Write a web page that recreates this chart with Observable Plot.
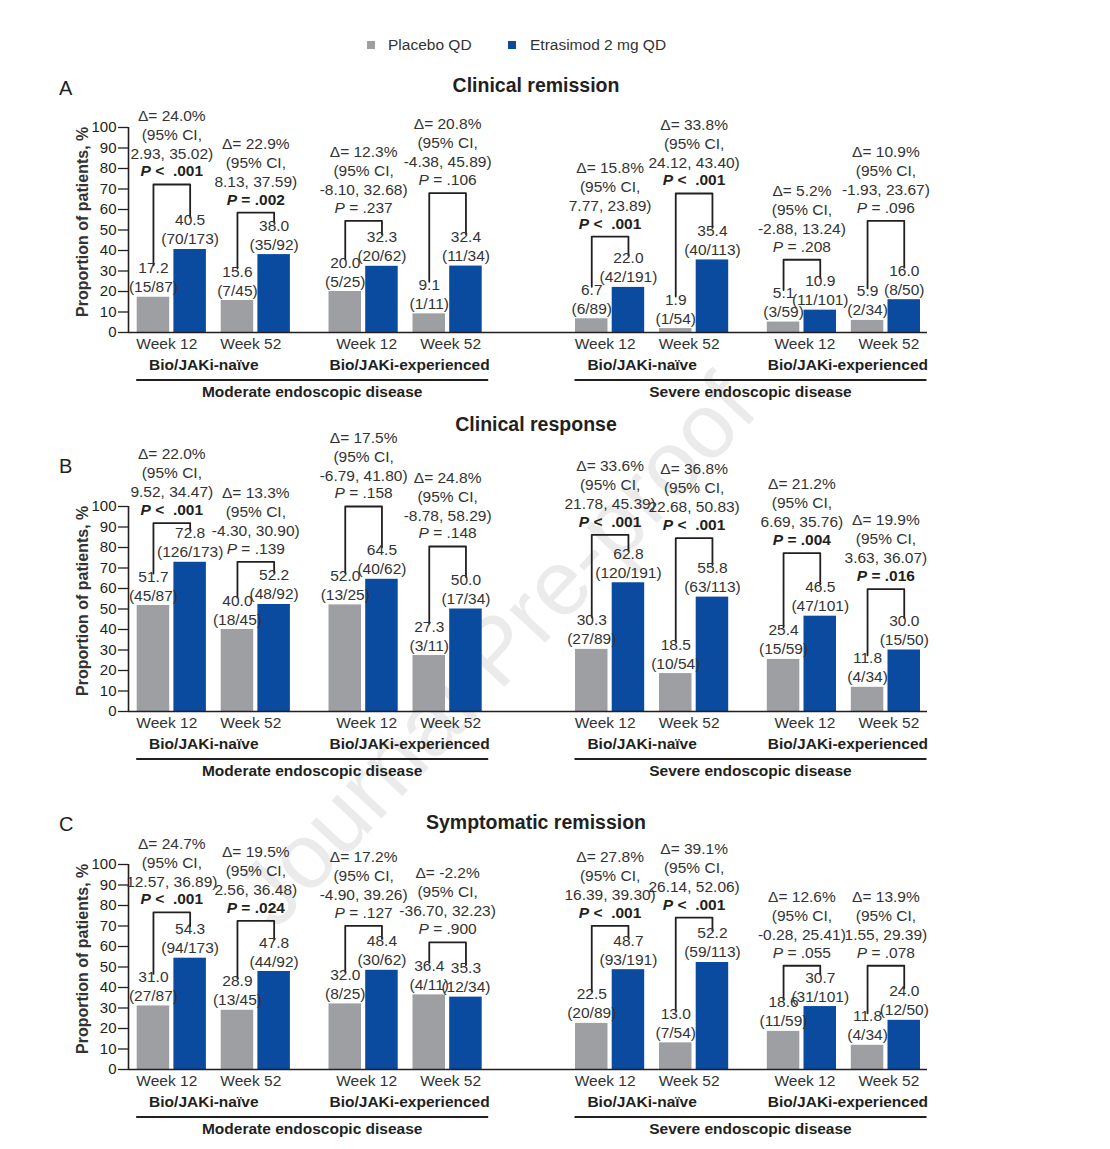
<!DOCTYPE html>
<html><head><meta charset="utf-8">
<script src="https://cdn.jsdelivr.net/npm/d3@7"></script>
<script src="https://cdn.jsdelivr.net/npm/@observablehq/plot@0.6"></script>
<style>
body{margin:0;background:#fff;font-family:"Liberation Sans",Arial,sans-serif;color:#231f20;}
#root{position:relative;width:1110px;height:1149px;overflow:hidden;background:#fff;}
.abs{position:absolute;white-space:nowrap;line-height:1;}
.panel{position:absolute;left:0;}
</style></head><body><div id="root"></div>
<script>
// ---------------- DATA ----------------
const ARMS = ["Placebo QD", "Etrasimod 2 mg QD"];
const WEEKS = ["Week 12", "Week 52"];
const SUBGROUPS = ["Bio/JAKi-naïve", "Bio/JAKi-experienced"];
const DISEASES = ["Moderate endoscopic disease", "Severe endoscopic disease"];
const TITLES = ["Clinical remission", "Clinical response", "Symptomatic remission"];
const LETTERS = ["A", "B", "C"];
const Y_TICKS = [0, 10, 20, 30, 40, 50, 60, 70, 80, 90, 100];
const Y_LABEL = "Proportion of patients, %";

// A: Clinical remission
const remPlacebo = [17.2, 15.6, 20.0, 9.1, 6.7, 1.9, 5.1, 5.9];
const remPlaceboN = ["15/87", "7/45", "5/25", "1/11", "6/89", "1/54", "3/59", "2/34"];
const remEtra = [40.5, 38.0, 32.3, 32.4, 22.0, 35.4, 10.9, 16.0];
const remEtraN = ["70/173", "35/92", "20/62", "11/34", "42/191", "40/113", "11/101", "8/50"];
const remDelta = ["24.0", "22.9", "12.3", "20.8", "15.8", "33.8", "5.2", "10.9"];
const remCI = ["2.93, 35.02", "8.13, 37.59", "-8.10, 32.68", "-4.38, 45.89", "7.77, 23.89", "24.12, 43.40", "-2.88, 13.24", "-1.93, 23.67"];
const remP = ["<  .001", "= .002", "= .237", "= .106", "<  .001", "<  .001", "= .208", "= .096"];
const remBracket = [72.2, 58.5, 54.5, 68.0, 46.8, 67.8, 35.5, 54.5];

// B: Clinical response
const resPlacebo = [51.7, 40.0, 52.0, 27.3, 30.3, 18.5, 25.4, 11.8];
const resPlaceboN = ["45/87", "18/45", "13/25", "3/11", "27/89", "10/54", "15/59", "4/34"];
const resEtra = [72.8, 52.2, 64.5, 50.0, 62.8, 55.8, 46.5, 30.0];
const resEtraN = ["126/173", "48/92", "40/62", "17/34", "120/191", "63/113", "47/101", "15/50"];
const resDelta = ["22.0", "13.3", "17.5", "24.8", "33.6", "36.8", "21.2", "19.9"];
const resCI = ["9.52, 34.47", "-4.30, 30.90", "-6.79, 41.80", "-8.78, 58.29", "21.78, 45.39", "22.68, 50.83", "6.69, 35.76", "3.63, 36.07"];
const resP = ["<  .001", "= .139", "= .158", "= .148", "<  .001", "<  .001", "= .004", "= .016"];
const resBracket = [91.9, 73.0, 100.0, 80.5, 86.2, 84.6, 77.3, 59.7];

// C: Symptomatic remission
const symPlacebo = [31.0, 28.9, 32.0, 36.4, 22.5, 13.0, 18.6, 11.8];
const symPlaceboN = ["27/87", "13/45", "8/25", "4/11", "20/89", "7/54", "11/59", "4/34"];
const symEtra = [54.3, 47.8, 48.4, 35.3, 48.7, 52.2, 30.7, 24.0];
const symEtraN = ["94/173", "44/92", "30/62", "12/34", "93/191", "59/113", "31/101", "12/50"];
const symDelta = ["24.7", "19.5", "17.2", "-2.2", "27.8", "39.1", "12.6", "13.9"];
const symCI = ["12.57, 36.89", "2.56, 36.48", "-4.90, 39.26", "-36.70, 32.23", "16.39, 39.30", "26.14, 52.06", "-0.28, 25.41", "1.55, 29.39"];
const symP = ["<  .001", "= .024", "= .127", "= .900", "<  .001", "<  .001", "= .055", "= .078"];
const symBracket = [76.6, 72.5, 70.1, 62.0, 70.1, 74.1, 50.6, 50.6];

// ---------------- STYLE / LAYOUT ----------------
const FONT = '"Liberation Sans", Arial, sans-serif';
const GRAY = "#9e9fa3", BLUE = "#0a4a9f", INK = "#231f20";
const W = 1110, MT = 100, PLOT_H = 205, MB = 75, ML = 128, MR = 183;
const XMAX = W - ML - MR;
const X0 = 8.7, DSTEP = 438.3, SSTEP = 191.8, WSTEP = 84, PSTEP = 36.7, BW = 32.5;
const PX_PER = PLOT_H / 100;
const FS = 15.5, LH = 19 / 15.5;
const zeroY = [331.7, 710.7, 1068.7];
const titleY = [86, 425, 823];
const letterY = [88, 466, 824];

function gLeft(i) { return X0 + Math.floor(i / 4) * DSTEP + (Math.floor(i / 2) % 2) * SSTEP + (i % 2) * WSTEP; }
function isSig(p) { return p.trim().startsWith("<") || parseFloat(p.replace(/[^0-9.]/g, "")) < 0.05; }

function panel(placebo, placeboN, etra, etraN, delta, ci, pv, bracket) {
  const bars = [];
  placebo.forEach((v, i) => bars.push({i, arm: ARMS[0], v, n: placeboN[i], x1: gLeft(i), x2: gLeft(i) + BW}));
  etra.forEach((v, i) => bars.push({i, arm: ARMS[1], v, n: etraN[i], x1: gLeft(i) + PSTEP, x2: gLeft(i) + PSTEP + BW}));
  const LEG = 32 / PX_PER;
  const groups = d3.range(8).map(i => ({
    i, xp: gLeft(i) + BW / 2, xe: gLeft(i) + PSTEP + BW / 2,
    xc: gLeft(i) + (PSTEP + BW) / 2, top: bracket[i],
    delta: delta[i], ci: ci[i], p: pv[i], sig: isSig(pv[i])
  }));
  const pts = [];
  groups.forEach(g => {
    pts.push({i: g.i, x: g.xp, y: placebo[g.i] + LEG});
    pts.push({i: g.i, x: g.xp, y: g.top});
    pts.push({i: g.i, x: g.xe, y: g.top});
    pts.push({i: g.i, x: g.xe, y: etra[g.i] + LEG});
  });
  const subs = d3.range(4).map(k => ({k, x: (gLeft(2 * k) + gLeft(2 * k + 1) + PSTEP + BW) / 2, text: SUBGROUPS[k % 2]}));
  const dis = d3.range(2).map(d => ({d, x1: gLeft(4 * d) - 1, x2: gLeft(4 * d + 3) + PSTEP + BW + 6, text: DISEASES[d]}));

  const svg = Plot.plot({
    width: W, height: MT + PLOT_H + MB,
    marginTop: MT, marginBottom: MB, marginLeft: ML, marginRight: MR,
    style: {fontFamily: FONT, fontSize: FS + "px", background: "transparent", overflow: "visible", color: INK},
    x: {domain: [0, XMAX], axis: null},
    y: {domain: [0, 100]},
    color: {domain: ARMS, range: [GRAY, BLUE]},
    marks: [
      Plot.rect(bars, {x1: "x1", x2: "x2", y1: 0, y2: "v", fill: "arm"}),
      Plot.ruleY([0], {stroke: INK, strokeWidth: 1.6}),
      Plot.ruleX([0], {y1: 0, y2: 100, stroke: INK, strokeWidth: 1.6}),
      Plot.axisY({ticks: Y_TICKS, tickSize: 10, tickPadding: 2, label: null, fontSize: 15, stroke: INK, strokeWidth: 1.3, fill: INK}),
      Plot.text([Y_LABEL], {text: d => d, frameAnchor: "left", y: 54, rotate: -90, dx: -46, textAnchor: "middle", lineAnchor: "middle", fontWeight: "bold", fontSize: 16, fill: "#333"}),
      Plot.line(pts, {x: "x", y: "y", z: "i", stroke: INK, strokeWidth: 1.8, curve: "linear"}),
      Plot.text(bars, {x: d => (d.x1 + d.x2) / 2, y: "v", text: d => `${d.v.toFixed(1)}\n(${d.n})`, lineAnchor: "bottom", dy: -5, lineHeight: LH, fill: "#333", fontSize: FS}),
      Plot.text(groups, {x: "xc", y: "top", text: d => `Δ= ${d.delta}%\n(95% CI,\n${d.ci})`, lineAnchor: "middle", dy: -13 - 38, lineHeight: LH, fill: "#333", fontSize: FS}),
      Plot.text(groups.filter(g => g.sig), {x: "xc", y: "top", text: d => `P ${d.p}`, dy: -13, fontWeight: "bold", fill: INK, fontSize: FS}),
      Plot.text(groups.filter(g => !g.sig), {x: "xc", y: "top", text: d => `P ${d.p}`, dy: -13, fill: "#333", fontSize: FS}),
      Plot.text(groups.filter(g => Math.floor(g.i / 2) % 2 === 0), {x: "xc", y: 0, text: d => WEEKS[d.i % 2], dy: 11.5, dx: -5, fill: "#333", fontSize: FS}),
      Plot.text(groups.filter(g => Math.floor(g.i / 2) % 2 === 1), {x: "xc", y: 0, text: d => WEEKS[d.i % 2], dy: 11.5, dx: 3, fill: "#333", fontSize: FS}),
      Plot.text(subs.filter(s => s.k % 2 === 0), {x: "x", y: 0, text: "text", dy: 32.5, dx: -10, fontWeight: "bold", fill: INK, fontSize: FS}),
      Plot.text(subs.filter(s => s.k % 2 === 1), {x: "x", y: 0, text: "text", dy: 32.5, dx: 4, fontWeight: "bold", fill: INK, fontSize: FS}),
      Plot.link(dis, {x1: "x1", x2: "x2", y1: 0, y2: 0, dy: 47.5, stroke: INK, strokeWidth: 1.8}),
      Plot.text(dis, {x: d => (d.x1 + d.x2) / 2, y: 0, text: "text", dy: 59.5, fontWeight: "bold", fill: INK, fontSize: FS})
    ]
  });
  // italicise the "P" of each P-value line
  svg.querySelectorAll("text").forEach(t => {
    if (t.children.length === 0 && /^P [<=]/.test(t.textContent)) {
      const rest = t.textContent.slice(1);
      t.textContent = "";
      const ts = document.createElementNS("http://www.w3.org/2000/svg", "tspan");
      ts.setAttribute("font-style", "italic");
      ts.textContent = "P";
      t.appendChild(ts);
      t.appendChild(document.createTextNode(rest));
    }
  });
  return svg;
}

const root = document.getElementById("root");
function addDiv(html, style) {
  const d = document.createElement("div");
  d.className = "abs";
  d.innerHTML = html;
  Object.assign(d.style, style);
  root.appendChild(d);
  return d;
}

// watermark
addDiv("Journal Pre-proof", {left: "495px", top: "650px", fontSize: "92px", color: "#ebebeb", transform: "translate(-50%,-50%) rotate(-47deg)", fontFamily: FONT});

// legend
addDiv("", {left: "367px", top: "41px", width: "8px", height: "8px", background: GRAY});
addDiv(ARMS[0], {left: "388px", top: "37px", fontSize: "15.5px", color: "#333"});
addDiv("", {left: "508px", top: "41px", width: "8px", height: "8px", background: BLUE});
addDiv(ARMS[1], {left: "530px", top: "37px", fontSize: "15.5px", color: "#333"});

const panels = [
  [remPlacebo, remPlaceboN, remEtra, remEtraN, remDelta, remCI, remP, remBracket],
  [resPlacebo, resPlaceboN, resEtra, resEtraN, resDelta, resCI, resP, resBracket],
  [symPlacebo, symPlaceboN, symEtra, symEtraN, symDelta, symCI, symP, symBracket]
];
panels.forEach((args, k) => {
  const svg = panel(...args);
  const wrap = document.createElement("div");
  wrap.className = "panel";
  wrap.style.top = (zeroY[k] - PLOT_H - MT) + "px";
  wrap.appendChild(svg);
  root.appendChild(wrap);
  addDiv(TITLES[k], {left: "536px", top: (titleY[k] - 10) + "px", fontSize: "19.5px", fontWeight: "bold", transform: "translateX(-50%)", color: INK});
  addDiv(LETTERS[k], {left: "59px", top: (letterY[k] - 10) + "px", fontSize: "20px", color: INK});
});
</script></body></html>
